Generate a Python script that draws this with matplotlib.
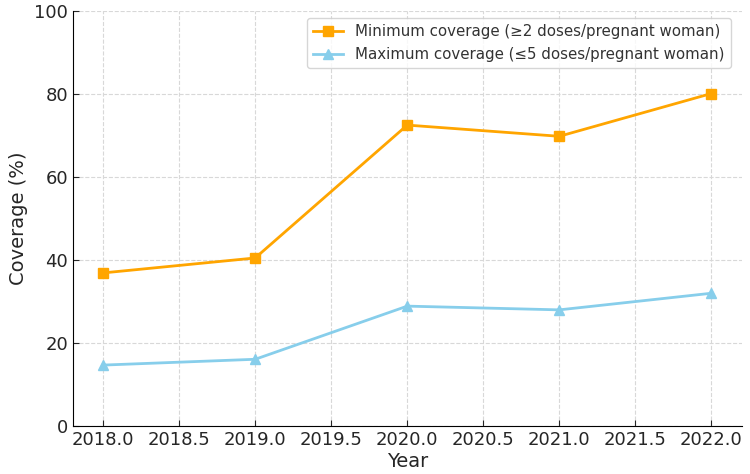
import matplotlib.pyplot as plt

years = [2018, 2019, 2020, 2021, 2022]
min_coverage = [36.9, 40.5, 72.5, 69.8, 80.1]
max_coverage = [14.7, 16.1, 28.9, 28.0, 32.0]

plt.rcParams['text.color'] = '#262626'
plt.rcParams['axes.labelcolor'] = '#262626'
plt.rcParams['xtick.color'] = '#262626'
plt.rcParams['ytick.color'] = '#262626'

fig, ax = plt.subplots(figsize=(7.5, 4.74), dpi=100)
fig.subplots_adjust(left=0.097, right=0.989, top=0.977, bottom=0.101)

ax.plot(years, min_coverage, marker='s', color='orange', linewidth=2, markersize=7,
        label='Minimum coverage (≥2 doses/pregnant woman)')
ax.plot(years, max_coverage, marker='^', color='skyblue', linewidth=2, markersize=7,
        label='Maximum coverage (≤5 doses/pregnant woman)')

ax.set_ylim(0, 100)
ax.set_xlim(2017.8, 2022.2)
ax.set_xlabel('Year', fontsize=14, labelpad=2)
ax.set_ylabel('Coverage (%)', fontsize=14)
ax.tick_params(labelsize=13, direction='in', length=4)
ax.grid(True, linestyle='--', color='#d8d8d8', linewidth=0.8)
ax.spines['top'].set_visible(False)
ax.spines['right'].set_visible(False)
leg = ax.legend(loc='upper right', fontsize=10.8, bbox_to_anchor=(0.995, 1.0))
for t in leg.get_texts():
    t.set_color('#333333')

plt.savefig('out.png')
